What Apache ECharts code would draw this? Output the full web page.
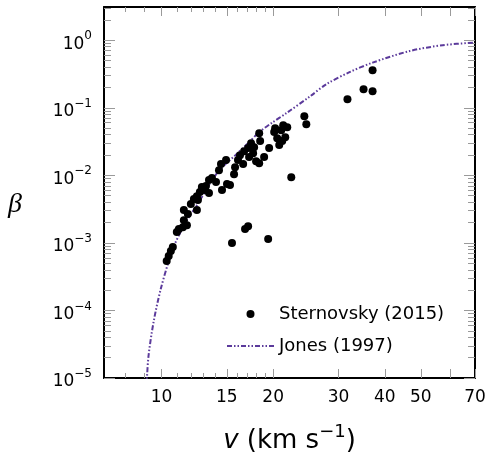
<!DOCTYPE html>
<html><head><meta charset="utf-8">
<script src="https://cdn.jsdelivr.net/npm/echarts@6/dist/echarts.min.js"></script>
<style>html,body{margin:0;padding:0;background:#fff}#c{width:487px;height:455px}</style>
</head><body><div id="c"></div>
<script>
// Sternovsky (2015) measurements: velocity (km/s) and beta
const sternV = [10.33,10.46,10.60,10.73,11.00,11.14,11.42,11.71,11.49,11.49,12.00,12.46,12.46,12.69,12.85,13.18,13.43,13.43,14.03,14.56,15.02,14.29,14.47,14.93,15.30,15.69,15.79,16.08,16.60,16.70,17.12,17.44,17.66,17.23,17.99,18.34,18.45,18.91,19.51,20.13,20.51,20.77,21.03,21.29,21.83,21.56,24.27,24.57,22.38,31.72,35.05,37.07,37.07,15.49,16.80,17.12,19.39,18.34,12.54,13.68,16.28,17.77,21.16,20.25,12.23,11.78,13.10];
const sternBeta = [5.38e-4,6.38e-4,7.56e-4,8.67e-4,1.45e-3,1.60e-3,1.71e-3,1.83e-3,2.17e-3,3.06e-3,3.75e-3,3.06e-3,4.92e-3,5.64e-3,6.69e-3,6.92e-3,5.46e-3,8.49e-3,7.93e-3,6.04e-3,7.41e-3,0.0119,0.01465,0.0168,7.16e-3,0.0104,0.0132,0.0168,0.01465,0.0228,0.0253,0.0299,0.0213,0.0186,0.0162,0.0421,0.0321,0.0186,0.0253,0.0436,0.0355,0.0280,0.0466,0.0553,0.0516,0.0367,0.0751,0.0572,9.40e-3,0.134,0.188,0.176,0.360,9.93e-4,1.60e-3,1.77e-3,1.14e-3,0.0151,4.30e-3,9.09e-3,0.0199,0.0261,0.0321,0.0499,4.45e-3,2.67e-3,6.04e-3];
// Jones (1997) curve
const jonesV = [9.096,9.141,9.240,9.532,9.938,10.46,10.80,11.63,12.46,14.12,15.98,17.23,18.34,19.88,21.70,25.19,27.84,32.12,37.07,46.69,57.33,70.0];
const jonesBeta = [4.73e-6,1.035e-5,2.26e-5,6.97e-5,2.00e-4,5.38e-4,8.97e-4,2.03e-3,3.62e-3,0.01078,0.02094,0.0310,0.0436,0.0602,0.0832,0.1485,0.2235,0.3363,0.4648,0.6919,0.8435,0.9247];
// ticks
const xMajorTicks = [10,15,20,30,40,50,60,70];
const xMinorTicks = [8,9,11,12,13,14,16,17,18,19];
const xTickLabels = [10,15,20,30,40,50,70];
const yExponents = [-5,-4,-3,-2,-1,0];
const yMinorMultipliers = [2,3,4,5,6,7,8,9];

const yMajorTicks = yExponents.map(e => Math.pow(10, e));
const yMinorTicks = [];
yExponents.forEach(e => yMinorMultipliers.forEach(m => { const v = m * Math.pow(10, e); if (v <= 3.1) yMinorTicks.push(v); }));

const FONT = 'DejaVu Sans';
const TICKC = '#9a9a9a';
const X_MIN = 7, X_MAX = 70, Y_MIN = 1e-5, Y_MAX = 3.1;

function xAx(position, ticks, len, showLine, showLabel) {
  return {
    type: 'log', logBase: 10, min: X_MIN, max: X_MAX, position: position,
    axisLine: { show: showLine, onZero: false, lineStyle: { color: '#000', width: 2 } },
    axisTick: { show: true, inside: true, length: len, customValues: ticks, lineStyle: { color: TICKC, width: 1 } },
    axisLabel: showLabel ? {
      show: true, customValues: xTickLabels, margin: 11, color: '#000', fontFamily: FONT, fontSize: 17,
      formatter: v => String(Math.round(v))
    } : { show: false },
    splitLine: { show: false }, minorTick: { show: false }
  };
}
function yAx(position, ticks, len, showLine, showLabel) {
  return {
    type: 'log', logBase: 10, min: Y_MIN, max: Y_MAX, position: position,
    axisLine: { show: showLine, onZero: false, lineStyle: { color: '#000', width: 2 } },
    axisTick: { show: true, inside: true, length: len, customValues: ticks, lineStyle: { color: TICKC, width: 1 } },
    axisLabel: showLabel ? {
      show: true, customValues: yMajorTicks, margin: 12, color: '#000', fontFamily: FONT, fontSize: 17,
      formatter: v => { const e = Math.round(Math.log10(v)); return '{a|10}{b|' + (e < 0 ? '\u2212' + (-e) : e) + '}'; },
      rich: {
        a: { fontFamily: FONT, fontSize: 17, color: '#000', padding: [8, 0, 0, 0] },
        b: { fontFamily: FONT, fontSize: 12, color: '#000', padding: [0, 0, 8, 0] }
      }
    } : { show: false },
    splitLine: { show: false }, minorTick: { show: false }
  };
}

const xAxes = [xAx('bottom', xMajorTicks, 9, true, true), xAx('bottom', xMinorTicks, 5, false, false),
               xAx('top', xMajorTicks, 9, true, false), xAx('top', xMinorTicks, 5, false, false)];
xAxes[0].name = '{i|v} {r|(km s}{s|\u22121}{r|)}';
xAxes[0].nameLocation = 'middle';
xAxes[0].nameGap = 45;
xAxes[0].nameTextStyle = {
  fontFamily: FONT, fontSize: 26, color: '#000',
  rich: {
    i: { fontFamily: FONT, fontStyle: 'italic', fontSize: 26, color: '#000' },
    r: { fontFamily: FONT, fontSize: 26, color: '#000' },
    s: { fontFamily: FONT, fontSize: 18, color: '#000', padding: [0, 0, 18, 0] }
  }
};
const yAxes = [yAx('left', yMajorTicks, 11, true, true), yAx('left', yMinorTicks, 7, false, false),
               yAx('right', yMajorTicks, 11, true, false), yAx('right', yMinorTicks, 7, false, false)];

const chart = echarts.init(document.getElementById('c'), null, { renderer: 'canvas' });
chart.setOption({
  animation: false,
  backgroundColor: '#fff',
  grid: { left: 104, right: 12, top: 7, bottom: 77, containLabel: false, outerBoundsMode: 'none' },
  xAxis: xAxes,
  yAxis: yAxes,
  graphic: [{
    type: 'text', left: 8, top: 191, silent: true,
    style: { text: '\u03B2', fontFamily: 'Liberation Serif', fontStyle: 'italic', fontSize: 28, fill: '#000' }
  }],
  legend: {
    orient: 'vertical', left: 226, top: 305, padding: 0, itemWidth: 47, itemHeight: 8, itemGap: 14,
    textStyle: { fontFamily: FONT, fontSize: 18, color: '#000' },
    data: [{ name: 'Sternovsky (2015)' }, { name: 'Jones (1997)', itemStyle: { opacity: 0 } }]
  },
  series: [
    {
      name: 'Jones (1997)', type: 'line', xAxisIndex: 0, yAxisIndex: 0,
      data: jonesV.map((v, i) => [v, jonesBeta[i]]),
      showSymbol: false, symbol: 'none', smooth: 0.3, z: 2,
      lineStyle: { color: '#5b3a9b', width: 2, type: [5, 2, 1.5, 2, 1.5, 2] },
      itemStyle: { color: '#5b3a9b' }
    },
    {
      name: 'Sternovsky (2015)', type: 'scatter', xAxisIndex: 0, yAxisIndex: 0,
      data: sternV.map((v, i) => [v, sternBeta[i]]),
      symbol: 'circle', symbolSize: 8, z: 3,
      itemStyle: { color: '#000', opacity: 1 }
    }
  ]
});
</script>
</body></html>
